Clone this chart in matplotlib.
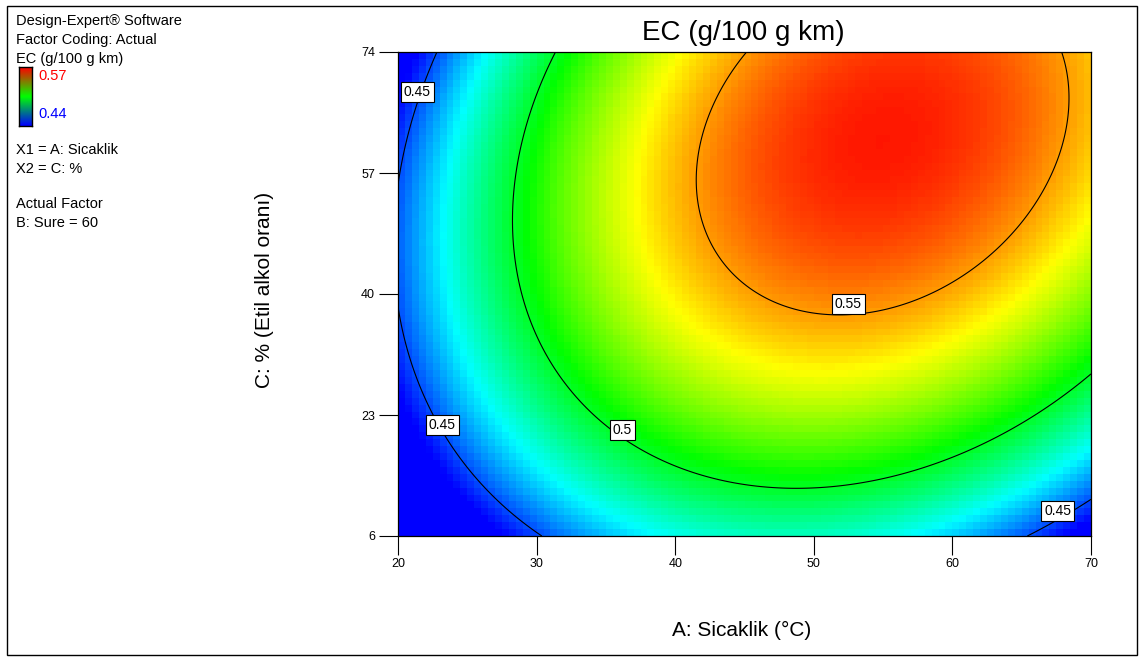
# -*- coding: utf-8 -*-
"""
Contour plot of EC (g/100 g km) vs A: Sicaklik and C: % (Design-Expert style).
Surface is the quadratic model (B: Sure fixed at 60).
"""
import numpy as np
import matplotlib
matplotlib.use("Agg")
import matplotlib.pyplot as plt
from matplotlib import patches
from matplotlib.colors import LinearSegmentedColormap

plt.rcParams["font.family"] = ["Liberation Sans", "DejaVu Sans"]

# ---------------- data -------------------------------------------------------
# quadratic model coefficients: EC = b0 + bA*A + bC*C + bAA*A^2 + bCC*C^2 + bAC*A*C
b0 = 0.240234
bA = 0.0093619
bC = 0.0022487
bAA = -9.9318e-05
bCC = -2.9405e-05
bAC = 2.5189e-05

a_range = [20, 70]
c_range = [6, 74]
x_ticks = [20, 30, 40, 50, 60, 70]
y_ticks = [6, 23, 40, 57, 74]
contour_levels = [0.45, 0.5, 0.55]
ec_min, ec_max = 0.44, 0.57

# where the contour labels sit (A, C)
label_pos = [(21.4, 68.4), (23.2, 21.6), (36.2, 20.9), (52.5, 38.6), (67.6, 9.5)]

legend_lines = ["Design-Expert® Software", "Factor Coding: Actual", "EC (g/100 g km)"]
factor_lines = ["X1 = A: Sicaklik", "X2 = C: %"]
actual_lines = ["Actual Factor", "B: Sure = 60"]
# -----------------------------------------------------------------------------

W, H = 1140, 657


def ec_model(A, C):
    return b0 + bA * A + bC * C + bAA * A**2 + bCC * C**2 + bAC * A * C


def fx(px):
    return px / W


def fy(py):
    return 1 - py / H


de_cmap = LinearSegmentedColormap.from_list(
    "de", ["#0000ff", "#00ffff", "#00ff00", "#ffff00", "#ff0000"]
)
bar_cmap = LinearSegmentedColormap.from_list("bar", ["#0000ff", "#00ff00", "#ff0000"])

fig = plt.figure(figsize=(W / 100, H / 100), dpi=100)
ax = fig.add_axes([fx(398), fy(536), fx(1091) - fx(398), fy(52) - fy(536)])

# coloured blocks (coarse grid like the original)
nx, ny = 100, 70
a_edges = np.linspace(a_range[0], a_range[1], nx + 1)
c_edges = np.linspace(c_range[0], c_range[1], ny + 1)
a_mid = (a_edges[:-1] + a_edges[1:]) / 2
c_mid = (c_edges[:-1] + c_edges[1:]) / 2
AM, CM = np.meshgrid(a_mid, c_mid)
ax.pcolormesh(a_edges, c_edges, ec_model(AM, CM), cmap=de_cmap,
              vmin=ec_min, vmax=ec_max, shading="flat")

# contour lines on a fine grid
a_fine = np.linspace(a_range[0], a_range[1], 400)
c_fine = np.linspace(c_range[0], c_range[1], 400)
AF, CF = np.meshgrid(a_fine, c_fine)
cs = ax.contour(AF, CF, ec_model(AF, CF), levels=contour_levels,
                colors="black", linewidths=0.8)
labels = ax.clabel(cs, inline=False, fontsize=10, manual=label_pos,
                   fmt=lambda v: f"{v:g}")
for t, pos in zip(labels, label_pos):
    t.set_position(pos)
    t.set_rotation(0)
    t.set_zorder(5)
    t.set_bbox(dict(boxstyle="square,pad=0.2", facecolor="white",
                    edgecolor="black", linewidth=0.8))

ax.set_xlim(a_range)
ax.set_ylim(c_range)
ax.set_xticks(x_ticks)
ax.set_yticks(y_ticks)
ax.tick_params(direction="out", length=13.5, width=0.8, labelsize=9, pad=3)
ax.tick_params(axis="x", pad=2)
for s in ax.spines.values():
    s.set_linewidth(0.9)

# titles / axis labels
fig.text(fx(743), fy(33), "EC (g/100 g km)", fontsize=20, ha="center", va="center")
fig.text(fx(742), fy(630), "A: Sicaklik (°C)", fontsize=15, ha="center", va="center")
fig.text(fx(265), fy(290), "C: % (Etil alkol oranı)", fontsize=15,
         ha="center", va="center", rotation=90)

# left legend block
for i, s in enumerate(legend_lines):
    fig.text(fx(16), fy(21.5 + 18.7 * i), s, fontsize=10.5, va="center")
cax = fig.add_axes([fx(19), fy(126), fx(32) - fx(19), fy(67) - fy(126)])
cax.imshow(np.linspace(1, 0, 100)[:, None], cmap=bar_cmap, aspect="auto")
cax.set_xticks([])
cax.set_yticks([])
for s in cax.spines.values():
    s.set_linewidth(1.0)
fig.text(fx(38), fy(76), f"{ec_max:.2f}", fontsize=10.5, va="center", color="#ff0000")
fig.text(fx(38), fy(114), f"{ec_min:.2f}", fontsize=10.5, va="center", color="#0000ff")
for i, s in enumerate(factor_lines):
    fig.text(fx(16), fy(150 + 18.7 * i), s, fontsize=10.5, va="center")
for i, s in enumerate(actual_lines):
    fig.text(fx(16), fy(204 + 18.7 * i), s, fontsize=10.5, va="center")

# outer frame
fig.add_artist(patches.Rectangle((fx(7), fy(655)), fx(1137) - fx(7), fy(6) - fy(655),
                                 transform=fig.transFigure, fill=False,
                                 edgecolor="black", linewidth=1.0))

fig.savefig("out.png", dpi=100)
